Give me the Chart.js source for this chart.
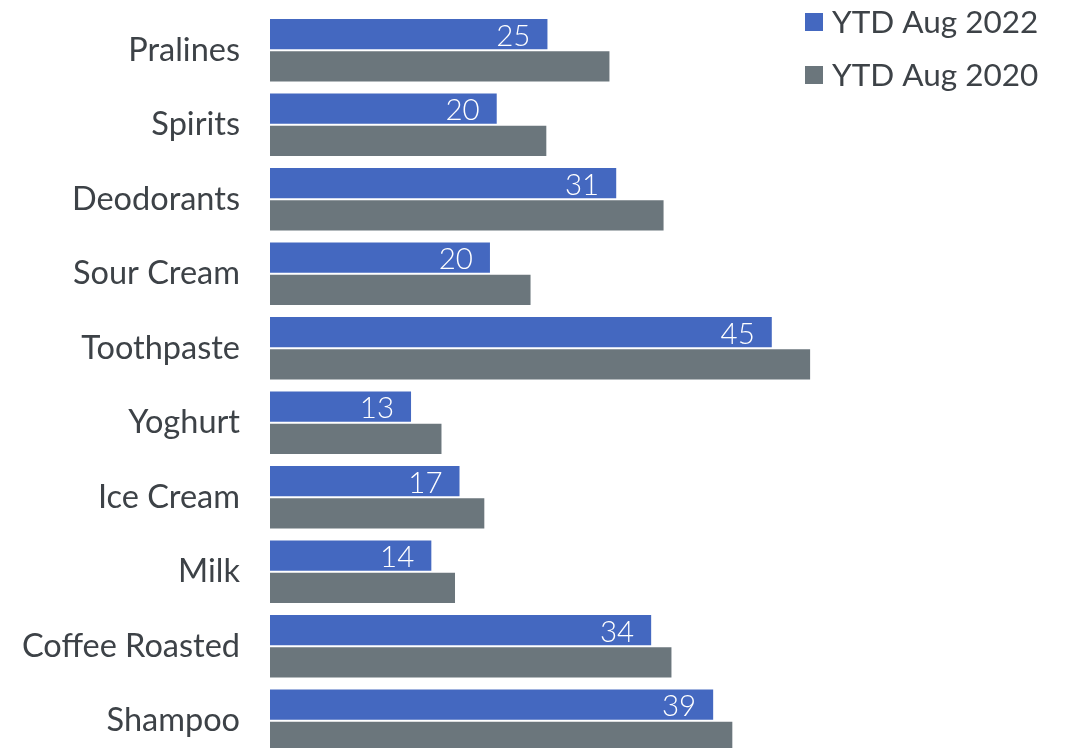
<!DOCTYPE html>
<html>
<head>
<meta charset="utf-8">
<title>YTD Aug 2022 vs 2020</title>
<script src="https://cdn.jsdelivr.net/npm/chart.js@4/dist/chart.umd.min.js"></script>
<style>
  html, body { margin: 0; padding: 0; background: #fff; overflow: hidden; }
  #chart { display: block; }
</style>
</head>
<body>
<canvas id="chart" width="1073" height="758"></canvas>
<script>
  // --- data ---
  var categories = ['Pralines', 'Spirits', 'Deodorants', 'Sour Cream', 'Toothpaste',
                    'Yoghurt', 'Ice Cream', 'Milk', 'Coffee Roasted', 'Shampoo'];
  var seriesNames = ['YTD Aug 2022', 'YTD Aug 2020'];
  var ytd2022 = [24.7, 20.2, 30.8, 19.6, 44.6, 12.6, 16.9, 14.4, 33.9, 39.4];
  var ytd2020 = [30.2, 24.6, 35.0, 23.2, 48.0, 15.3, 19.1, 16.5, 35.7, 41.1];

  var BLUE = '#4468c0';
  var GREY = '#6b767c';
  var TEXT = '#3d4247';

  // white value labels inside the end of the 2022 bars
  var valueLabels = {
    id: 'valueLabels',
    afterDatasetsDraw: function (chart) {
      var ctx = chart.ctx;
      var meta = chart.getDatasetMeta(0);
      ctx.save();
      ctx.font = '300 29.5px Lato';
      ctx.fillStyle = '#ffffff';
      ctx.textAlign = 'right';
      ctx.textBaseline = 'middle';
      meta.data.forEach(function (bar, i) {
        var v = chart.data.datasets[0].data[i];
        ctx.fillText(Math.round(v).toString(), bar.x - 18, bar.y + 2);
      });
      ctx.restore();
    }
  };

  // legend in the top right corner, stacked vertically
  var cornerLegend = {
    id: 'cornerLegend',
    afterDraw: function (chart) {
      var ctx = chart.ctx;
      ctx.save();
      ctx.font = '31.5px Lato';
      ctx.textAlign = 'left';
      ctx.textBaseline = 'alphabetic';
      chart.data.datasets.forEach(function (ds, i) {
        var y = 13 + i * 53;
        ctx.fillStyle = ds.backgroundColor;
        ctx.fillRect(805, y, 18, 18);
        ctx.fillStyle = TEXT;
        ctx.fillText(ds.label, 832, y + 20);
      });
      ctx.restore();
    }
  };

  var ctx = document.getElementById('chart').getContext('2d');
  new Chart(ctx, {
    type: 'bar',
    data: {
      labels: categories,
      datasets: [
        {
          label: seriesNames[0],
          data: ytd2022,
          backgroundColor: BLUE,
          borderColor: 'rgba(255,255,255,0.35)',
          borderWidth: 1,
          categoryPercentage: 0.864,
          barPercentage: 1
        },
        {
          label: seriesNames[1],
          data: ytd2020,
          backgroundColor: GREY,
          borderColor: 'rgba(255,255,255,0.35)',
          borderWidth: 1,
          categoryPercentage: 0.864,
          barPercentage: 1
        }
      ]
    },
    options: {
      indexAxis: 'y',
      responsive: false,
      animation: false,
      layout: { padding: { top: 13, right: 15, bottom: 0, left: 0 } },
      scales: {
        x: {
          display: false,
          min: 0,
          max: 69.9
        },
        y: {
          grid: { display: false, drawTicks: false },
          border: { display: false },
          ticks: {
            color: TEXT,
            padding: 30,
            font: { family: 'Lato', size: 32.5 }
          },
          afterFit: function (scale) {
            // fixed label column, no extra top/bottom padding from the tick padding
            scale.width = 270;
            scale.paddingTop = 0;
            scale.paddingBottom = 0;
          }
        }
      },
      plugins: {
        legend: { display: false },
        tooltip: { enabled: false }
      }
    },
    plugins: [valueLabels, cornerLegend]
  });
</script>
</body>
</html>
